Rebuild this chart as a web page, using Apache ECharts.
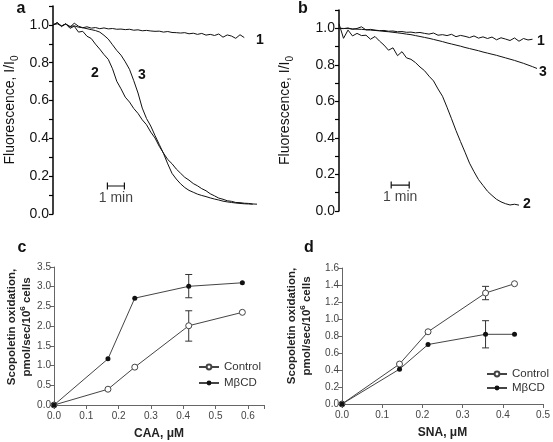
<!DOCTYPE html>
<html><head><meta charset="utf-8">
<script src="https://cdn.jsdelivr.net/npm/echarts@6/dist/echarts.min.js"></script>
<style>html,body{margin:0;padding:0;background:#fff}#c{width:553px;height:442px}</style>
</head><body><div id="c"></div>
<script>
// time grid (minutes) shared by traces
const TIME = [0,0.25,0.5,0.75,1,1.25,1.5,1.75,2,2.25,2.5,2.75,3,3.25,3.5,3.75,4,4.25,4.5,4.75,5,5.25,5.5,5.75,6,6.25,6.5,6.75,7,7.25,7.5,7.75,8,8.25,8.5,8.75,9,9.25,9.5,9.75,10,10.25,10.5,10.75,11,11.25,11.5,11.75,12];

// panel a traces (I/I0)
const A1 = [1.000,1.012,0.994,1.006,0.988,1.009,0.993,0.985,0.990,0.983,0.986,0.980,0.984,0.979,0.981,0.977,0.978,0.975,0.977,0.972,0.974,0.969,0.971,0.968,0.966,0.967,0.962,0.965,0.960,0.959,0.957,0.959,0.953,0.956,0.950,0.955,0.946,0.950,0.944,0.952,0.935,0.947,0.941,0.929,0.948,0.933];
const A2 = [1.000,1.012,0.991,1.006,0.982,0.993,0.962,0.966,0.940,0.928,0.898,0.872,0.843,0.818,0.768,0.702,0.662,0.618,0.592,0.558,0.532,0.498,0.472,0.433,0.402,0.358,0.322,0.288,0.266,0.238,0.216,0.194,0.179,0.161,0.149,0.134,0.123,0.107,0.096,0.084,0.078,0.070,0.067,0.061,0.060,0.057,0.056,0.053,0.052];
const A3 = [1.000,1.006,0.995,1.004,0.992,0.995,0.988,0.985,0.980,0.975,0.970,0.962,0.945,0.925,0.895,0.865,0.840,0.805,0.765,0.705,0.640,0.560,0.505,0.465,0.415,0.368,0.320,0.265,0.215,0.185,0.160,0.140,0.125,0.115,0.105,0.098,0.092,0.085,0.079,0.074,0.068,0.064,0.061,0.058,0.056,0.054,0.053,0.052];

// panel b traces (I/I0)
const B1 = [1.000,0.998,1.002,0.994,0.999,1.008,0.991,0.994,0.990,0.987,0.988,0.984,0.985,0.981,0.982,0.978,0.979,0.975,0.977,0.972,0.968,0.974,0.962,0.965,0.960,0.967,0.954,0.961,0.956,0.949,0.958,0.946,0.953,0.944,0.952,0.937,0.948,0.941,0.933,0.947,0.929,0.944,0.936,0.940];
const B2 = [1.025,0.945,0.990,0.958,0.972,0.960,0.962,0.940,0.955,0.930,0.908,0.880,0.893,0.850,0.872,0.838,0.830,0.812,0.788,0.768,0.738,0.712,0.668,0.628,0.568,0.505,0.440,0.380,0.322,0.262,0.215,0.172,0.140,0.108,0.085,0.064,0.050,0.040,0.033,0.037,0.032];
const B3 = [1.000,0.999,0.998,0.997,0.995,0.994,0.992,0.990,0.988,0.986,0.983,0.981,0.978,0.975,0.972,0.968,0.965,0.960,0.955,0.950,0.945,0.939,0.933,0.927,0.920,0.914,0.908,0.902,0.895,0.889,0.883,0.877,0.870,0.864,0.858,0.852,0.845,0.838,0.831,0.824,0.816,0.808,0.799,0.790,0.780];

// "1 min" scale bars [start, end] in minutes and their level
const SCALE_A = [3.2, 4.2], SCALE_A_Y = 0.148;
const SCALE_B = [2.9, 3.9], SCALE_B_Y = 0.142;

// panel c
const CAA = [0, 0.167, 0.25, 0.417, 0.583];
const C_CONTROL = [0, 0.40, 0.96, 2.01, 2.35];
const C_MBCD = [0, 1.17, 2.71, 3.01, 3.10];
const C_ERR_CONTROL = [[0.417, 1.62, 2.39]];
const C_ERR_MBCD = [[0.417, 2.72, 3.31]];

// panel d
const SNA = [0, 0.143, 0.214, 0.357, 0.429];
const D_CONTROL = [0, 0.47, 0.85, 1.306, 1.415];
const D_MBCD = [0, 0.41, 0.70, 0.82, 0.82];
const D_ERR_CONTROL = [[0.357, 1.227, 1.384]];
const D_ERR_MBCD = [[0.357, 0.66, 0.98]];

const zip = (xs, ys) => ys.map((y, i) => [xs[i], y]);
const FONT = 'Liberation Sans, Arial, sans-serif';

const chart = echarts.init(document.getElementById('c'), null, {renderer: 'canvas'});

function traceSeries(xi, vals) {
  return {type: 'line', xAxisIndex: xi, yAxisIndex: xi, data: zip(TIME, vals), showSymbol: false, symbol: 'none',
    lineStyle: {color: '#111', width: 1}, silent: true, animation: false};
}
function scaleBar(xi, xs, y) {
  return [
    {type: 'line', xAxisIndex: xi, yAxisIndex: xi, data: xs.map(x => [x, y]), symbol: 'rect', symbolSize: [1.2, 7],
      itemStyle: {color: '#111'}, lineStyle: {color: '#111', width: 1.2}, animation: false, silent: true},
    {type: 'scatter', xAxisIndex: xi, yAxisIndex: xi, data: [[(xs[0] + xs[1]) / 2, y]], symbolSize: 0,
      label: {show: true, position: 'bottom', distance: 5, formatter: '1 min', fontSize: 14, color: '#111', fontFamily: FONT},
      animation: false, silent: true}
  ];
}
function errSeries(xi, data) {
  return {type: 'custom', xAxisIndex: xi, yAxisIndex: xi, data: data, z: 1, animation: false, silent: true,
    renderItem: (params, api) => {
      const lo = api.coord([api.value(0), api.value(1)]);
      const hi = api.coord([api.value(0), api.value(2)]);
      const s = {stroke: '#333', lineWidth: 1};
      return {type: 'group', children: [
        {type: 'line', shape: {x1: lo[0], y1: lo[1], x2: hi[0], y2: hi[1]}, style: s},
        {type: 'line', shape: {x1: lo[0] - 3.5, y1: lo[1], x2: lo[0] + 3.5, y2: lo[1]}, style: s},
        {type: 'line', shape: {x1: hi[0] - 3.5, y1: hi[1], x2: hi[0] + 3.5, y2: hi[1]}, style: s}
      ]};
    }};
}
function pointSeries(xi, name, xs, ys, filled) {
  return {type: 'line', name: name, xAxisIndex: xi, yAxisIndex: xi, data: zip(xs, ys), z: 3,
    symbol: 'circle', symbolSize: filled ? 5 : 6, showSymbol: true,
    itemStyle: {color: filled ? '#111' : '#fff', borderColor: filled ? '#111' : '#444', borderWidth: filled ? 0 : 1},
    lineStyle: {color: '#444', width: 1}, animation: false};
}

const fluorAxis = (gap) => ({
  type: 'value', min: 0, max: 1.1, interval: 0.1,
  axisLine: {show: true, lineStyle: {color: '#000', width: 1.5}},
  axisTick: {show: true, length: 4, lineStyle: {color: '#000', width: 1.2}},
  splitLine: {show: false},
  axisLabel: {fontSize: 14, color: '#111', fontFamily: FONT, margin: 4,
    formatter: v => (Math.round(v * 10) % 2 === 0 && v <= 1.0001) ? v.toFixed(1) : ''},
  name: '{n|Fluorescence, I/I}{s|0}', nameLocation: 'middle', nameGap: gap,
  nameTextStyle: {rich: {n: {fontSize: 14, color: '#111', fontFamily: FONT}, s: {fontSize: 10, color: '#111', fontFamily: FONT, padding: [9, 0, 0, 0]}}}
});
const grayAxisX = (max, title, gap) => ({
  type: 'value', min: 0, max: max, interval: 0.1,
  axisLine: {show: true, onZero: false, lineStyle: {color: '#666', width: 1}},
  axisTick: {show: true, length: 4, lineStyle: {color: '#666'}},
  splitLine: {show: false},
  axisLabel: {fontSize: 10, color: '#444', fontFamily: FONT, margin: 6,
    formatter: v => Math.abs(v * 10 - Math.round(v * 10)) < 1e-6 ? v.toFixed(1) : ''},
  name: title, nameLocation: 'middle', nameGap: gap,
  nameTextStyle: {fontSize: 12, fontWeight: 'bold', color: '#222', fontFamily: FONT}
});
const grayAxisY = (max, interval) => ({
  type: 'value', min: 0, max: max, interval: interval,
  axisLine: {show: true, onZero: false, lineStyle: {color: '#666', width: 1}},
  axisTick: {show: true, length: 4, lineStyle: {color: '#666'}},
  splitLine: {show: false},
  axisLabel: {fontSize: 10, color: '#444', fontFamily: FONT, margin: 3, formatter: v => v.toFixed(1)}
});

const label = (x, y, t, size) => ({type: 'text', x: x, y: y, style: {text: t, fontSize: size || 14, fontWeight: 'bold', fill: '#111', fontFamily: FONT, align: 'center', verticalAlign: 'middle'}});
const yTitle = (x, y) => ({type: 'text', x: x, y: y, rotation: Math.PI / 2,
  style: {text: '{b|Scopoletin oxidation,}\n{b|pmol/sec/10}{p|6}{b| cells}', align: 'center', verticalAlign: 'middle', fill: '#222',
    rich: {b: {fontSize: 11.5, fontWeight: 'bold', fontFamily: FONT, lineHeight: 15, fill: '#222'},
           p: {fontSize: 8, fontWeight: 'bold', fontFamily: FONT, lineHeight: 15, verticalAlign: 'top', padding: [0, 0, 6, 0], fill: '#222'}}}});

chart.setOption({
  backgroundColor: '#fff',
  animation: false,
  textStyle: {fontFamily: FONT},
  grid: [
    {left: 53, top: 6, width: 204, height: 208},
    {left: 339, top: 10, width: 198, height: 201},
    {left: 54, top: 267, width: 210, height: 138},
    {left: 342, top: 268, width: 203, height: 136}
  ],
  xAxis: [
    {gridIndex: 0, type: 'value', min: 0, max: 12, show: false},
    {gridIndex: 1, type: 'value', min: 0, max: 11, show: false},
    Object.assign({gridIndex: 2}, grayAxisX(0.65, 'CAA, μM', 23)),
    Object.assign({gridIndex: 3}, grayAxisX(0.5, 'SNA, μM', 23))
  ],
  yAxis: [
    Object.assign({gridIndex: 0}, fluorAxis(33)),
    Object.assign({gridIndex: 1}, fluorAxis(44)),
    Object.assign({gridIndex: 2}, grayAxisY(3.5, 0.5)),
    Object.assign({gridIndex: 3}, grayAxisY(1.6, 0.2))
  ],
  legend: [
    {data: ['Control', 'MβCD'], orient: 'vertical', left: 193, top: 356, itemWidth: 20, itemHeight: 6, itemGap: 4,
      textStyle: {fontSize: 11.5, color: '#333', fontFamily: FONT}, selectedMode: false},
    {data: ['Control', 'MβCD'], orient: 'vertical', left: 481, top: 363, itemWidth: 20, itemHeight: 6, itemGap: 2,
      textStyle: {fontSize: 11.5, color: '#333', fontFamily: FONT}, selectedMode: false}
  ],
  series: [
    traceSeries(0, A1), traceSeries(0, A2), traceSeries(0, A3),
    ...scaleBar(0, SCALE_A, SCALE_A_Y),
    traceSeries(1, B1), traceSeries(1, B2), traceSeries(1, B3),
    ...scaleBar(1, SCALE_B, SCALE_B_Y),
    errSeries(2, C_ERR_CONTROL), errSeries(2, C_ERR_MBCD),
    pointSeries(2, 'Control', CAA, C_CONTROL, false),
    pointSeries(2, 'MβCD', CAA, C_MBCD, true),
    errSeries(3, D_ERR_CONTROL), errSeries(3, D_ERR_MBCD),
    pointSeries(3, 'Control', SNA, D_CONTROL, false),
    pointSeries(3, 'MβCD', SNA, D_MBCD, true)
  ],
  graphic: [
    label(21, 9, 'a', 16), label(303, 9, 'b', 16), label(22, 248, 'c', 16), label(309, 248, 'd', 16),
    label(260, 40, '1'), label(95, 73, '2'), label(142, 75, '3'),
    label(541, 41, '1'), label(543, 72, '3'), label(527, 204, '2'),
    yTitle(19, 327), yTitle(299, 326)
  ]
});
</script>
</body></html>
